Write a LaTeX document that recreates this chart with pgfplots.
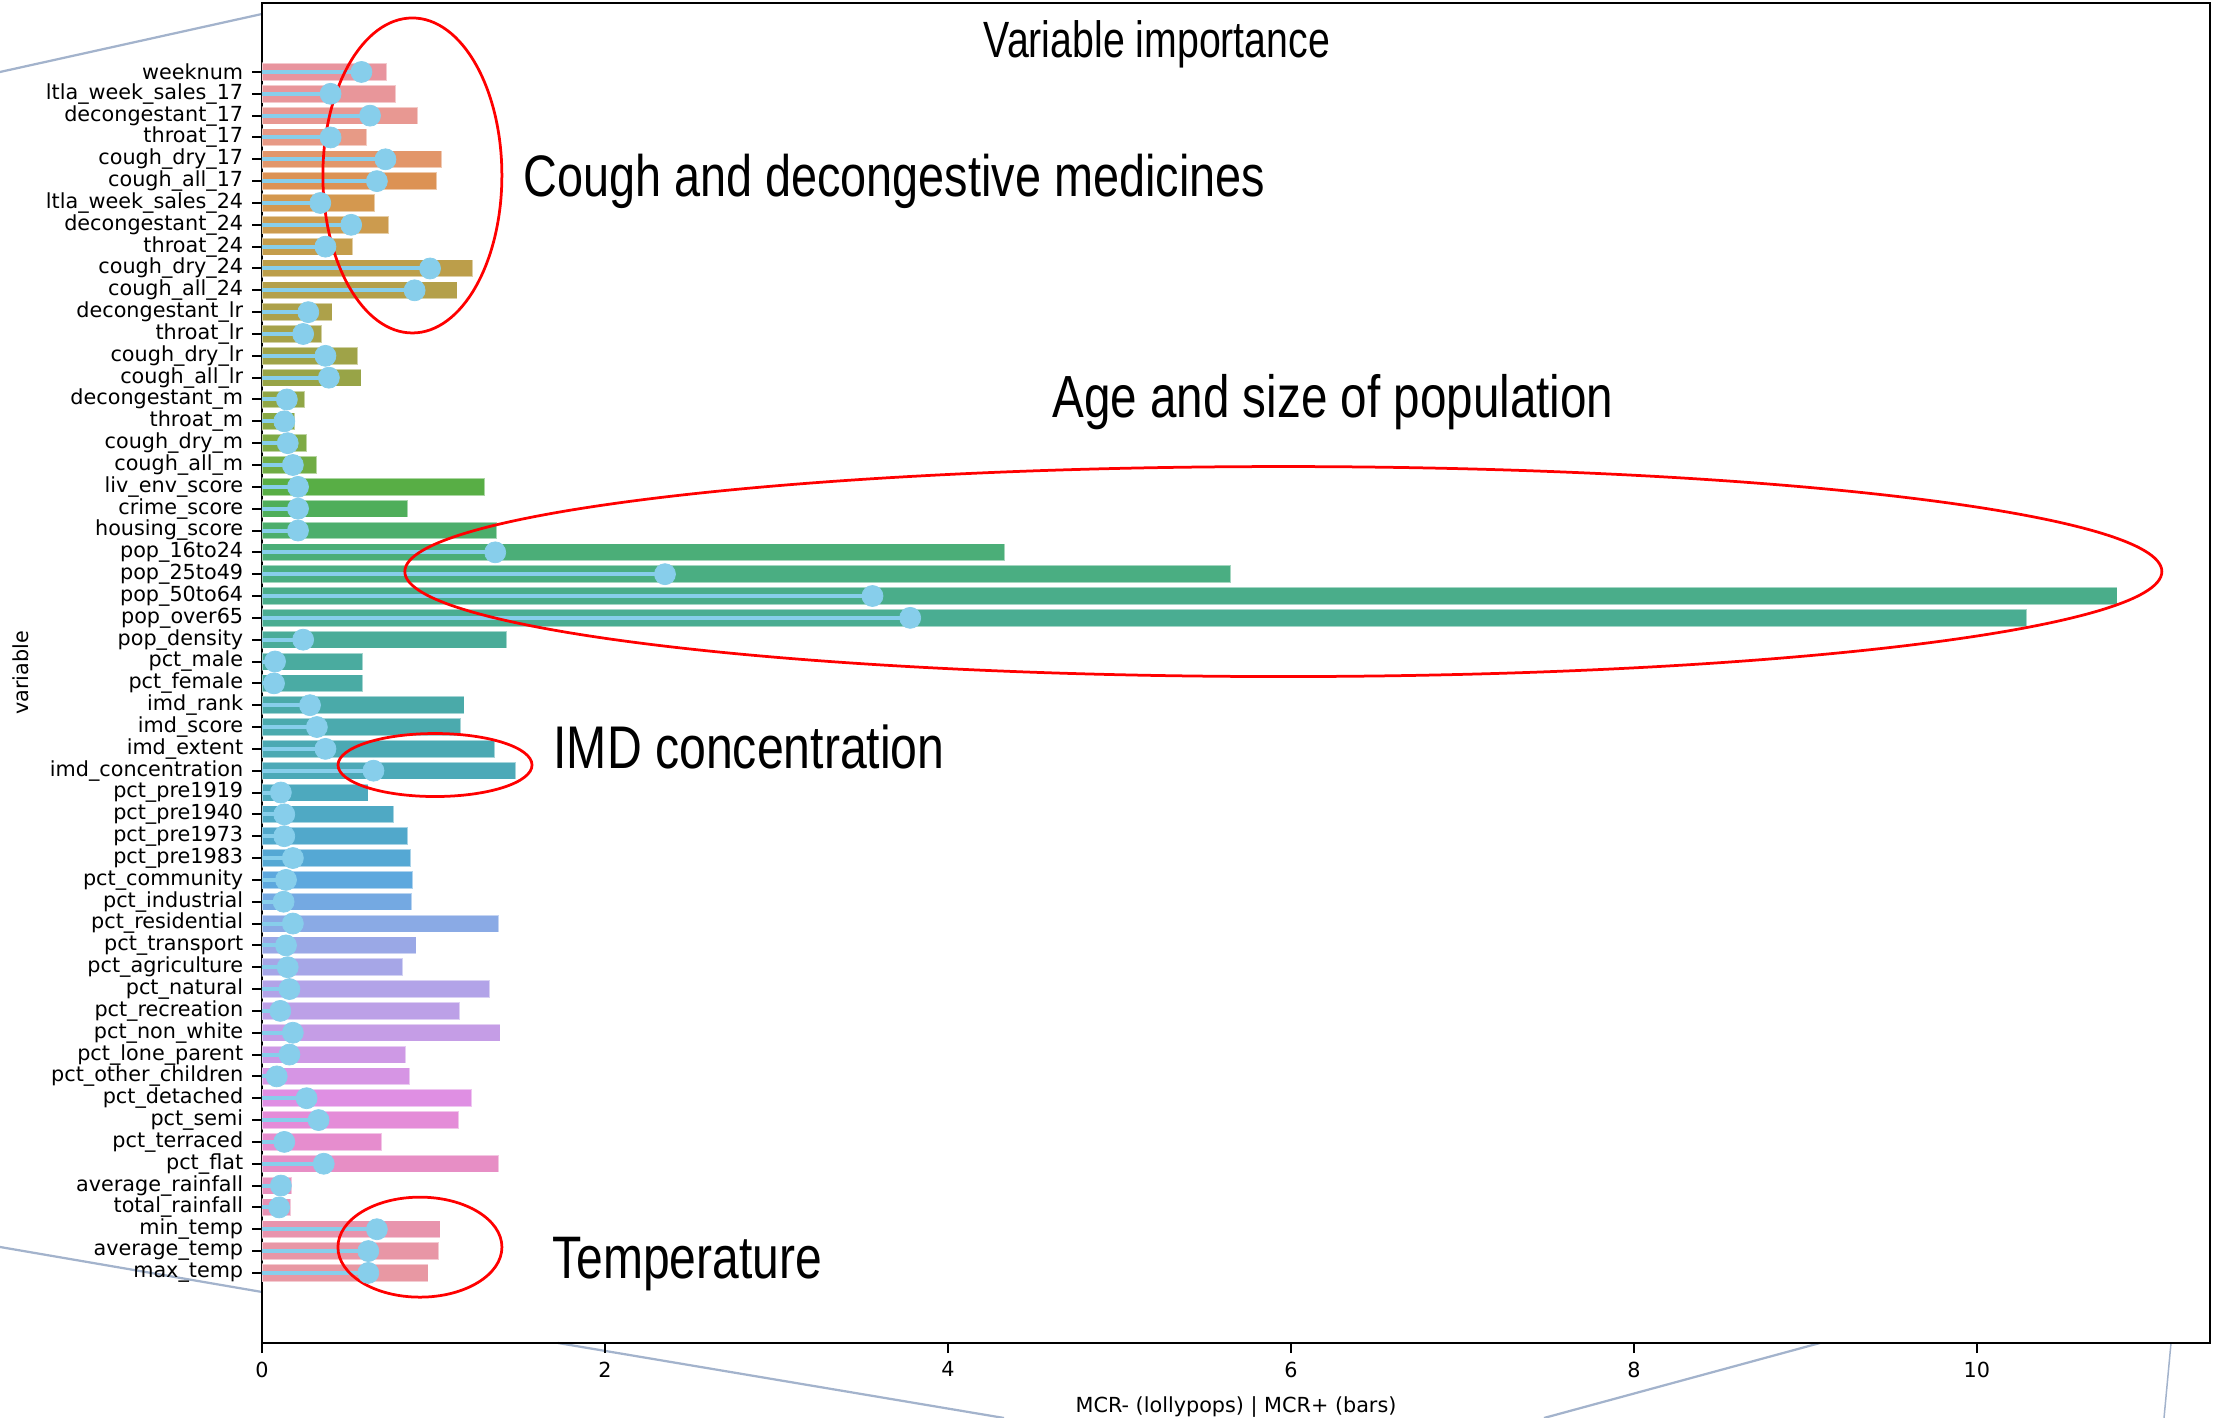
\documentclass[border=0pt]{standalone}
\usepackage{pgfplots}
\pgfplotsset{compat=1.18}
\usepackage{pgfplotstable}
\usepackage{fontspec}
\setmainfont{DejaVu Sans}
\newfontfamily\condfont[FakeStretch=0.8]{Liberation Sans}
\newfontfamily\titlefont[FakeStretch=0.77]{Liberation Sans}
\definecolor{skyblue}{HTML}{87CEEB}
\definecolor{slide}{HTML}{A3B3CC}
\definecolor{c0}{HTML}{E8949E}
\definecolor{c1}{HTML}{E8969A}
\definecolor{c2}{HTML}{E89892}
\definecolor{c3}{HTML}{E79A86}
\definecolor{c4}{HTML}{E2966A}
\definecolor{c5}{HTML}{DC9254}
\definecolor{c6}{HTML}{D4984F}
\definecolor{c7}{HTML}{CC9B4E}
\definecolor{c8}{HTML}{C49D4C}
\definecolor{c9}{HTML}{BC9E4A}
\definecolor{c10}{HTML}{B4A04A}
\definecolor{c11}{HTML}{ADA14A}
\definecolor{c12}{HTML}{A6A249}
\definecolor{c13}{HTML}{9FA348}
\definecolor{c14}{HTML}{98A447}
\definecolor{c15}{HTML}{90A646}
\definecolor{c16}{HTML}{88A845}
\definecolor{c17}{HTML}{7EAA45}
\definecolor{c18}{HTML}{70AC44}
\definecolor{c19}{HTML}{58AE45}
\definecolor{c20}{HTML}{4FAE5A}
\definecolor{c21}{HTML}{4CAE6C}
\definecolor{c22}{HTML}{4BAE78}
\definecolor{c23}{HTML}{4AAE82}
\definecolor{c24}{HTML}{4AAD8A}
\definecolor{c25}{HTML}{4AAD92}
\definecolor{c26}{HTML}{4AAC99}
\definecolor{c27}{HTML}{4AAB9F}
\definecolor{c28}{HTML}{4AABA4}
\definecolor{c29}{HTML}{4AAAA9}
\definecolor{c30}{HTML}{4BAAAE}
\definecolor{c31}{HTML}{4BA9B3}
\definecolor{c32}{HTML}{4CA9B8}
\definecolor{c33}{HTML}{4DA9BE}
\definecolor{c34}{HTML}{4FA9C4}
\definecolor{c35}{HTML}{51A8CB}
\definecolor{c36}{HTML}{55A8D4}
\definecolor{c37}{HTML}{5DA8DE}
\definecolor{c38}{HTML}{74A9E2}
\definecolor{c39}{HTML}{8AAAE5}
\definecolor{c40}{HTML}{9AA8E6}
\definecolor{c41}{HTML}{A6A6E7}
\definecolor{c42}{HTML}{B2A3E8}
\definecolor{c43}{HTML}{BCA0E7}
\definecolor{c44}{HTML}{C59DE6}
\definecolor{c45}{HTML}{CE99E5}
\definecolor{c46}{HTML}{D695E4}
\definecolor{c47}{HTML}{DF8FE3}
\definecolor{c48}{HTML}{E48CD8}
\definecolor{c49}{HTML}{E68DCE}
\definecolor{c50}{HTML}{E78EC5}
\definecolor{c51}{HTML}{E890BC}
\definecolor{c52}{HTML}{E892B4}
\definecolor{c53}{HTML}{E894AD}
\definecolor{c54}{HTML}{E896A6}
\definecolor{c55}{HTML}{E898A3}

\pgfplotstableread{
idx bar dot
0 0.73 0.58
1 0.78 0.40
2 0.91 0.63
3 0.61 0.40
4 1.05 0.72
5 1.02 0.67
6 0.66 0.34
7 0.74 0.52
8 0.53 0.37
9 1.23 0.98
10 1.14 0.89
11 0.41 0.27
12 0.35 0.24
13 0.56 0.37
14 0.58 0.39
15 0.25 0.145
16 0.19 0.13
17 0.26 0.15
18 0.32 0.18
19 1.30 0.21
20 0.85 0.21
21 1.37 0.21
22 4.33 1.36
23 5.65 2.35
24 10.82 3.56
25 10.29 3.78
26 1.43 0.24
27 0.59 0.076
28 0.59 0.07
29 1.18 0.28
30 1.16 0.32
31 1.36 0.37
32 1.48 0.65
33 0.62 0.11
34 0.77 0.13
35 0.85 0.13
36 0.87 0.18
37 0.88 0.14
38 0.875 0.126
39 1.38 0.18
40 0.90 0.14
41 0.82 0.15
42 1.33 0.16
43 1.155 0.107
44 1.39 0.18
45 0.84 0.16
46 0.863 0.086
47 1.225 0.26
48 1.15 0.33
49 0.70 0.13
50 1.38 0.36
51 0.175 0.11
52 0.17 0.10
53 1.04 0.67
54 1.03 0.62
55 0.97 0.62
}\datatable

\begin{document}
\begin{tikzpicture}
\begin{scope}[x=0.4pt,y=-0.4pt,shift={(-262,-1343)}]
\path (0,0) rectangle (2220,1418);
\begin{scope}
\clip (0,0) rectangle (2220,1418);
\draw[slide, line width=0.9pt] (0,72) -- (262,14);
\draw[slide, line width=0.9pt] (0,1247) -- (262,1292);
\draw[slide, line width=0.9pt] (558,1343) -- (1004,1418);
\draw[slide, line width=0.9pt] (1820,1343) -- (1544,1418);
\draw[slide, line width=0.6pt] (2171,1343) -- (2164,1418);
\end{scope}
\end{scope}
\begin{axis}[
  at={(0,0)}, anchor=south west,
  scale only axis, width=779.2pt, height=536pt,
  xmin=0, xmax=11.36, ymin=-3.16, ymax=58.21, y dir=reverse,
  enlargelimits=false,
  axis line style={line width=0.8pt, black},
  tick align=outside, tick pos=left,
  major tick length=4pt,
  tick style={line width=0.8pt, black},
  xtick={0,2,4,6,8,10},
  ytick={0,...,55},
  /pgf/number format/assume math mode=true,
  tick label style={font=\fontsize{8.3}{10}\selectfont},
  label style={font=\fontsize{8.3}{10}\selectfont, inner sep=0pt},
  yticklabels={weeknum, ltla\_week\_sales\_17, decongestant\_17, throat\_17, cough\_dry\_17, cough\_all\_17, ltla\_week\_sales\_24, decongestant\_24, throat\_24, cough\_dry\_24, cough\_all\_24, decongestant\_lr, throat\_lr, cough\_dry\_lr, cough\_all\_lr, decongestant\_m, throat\_m, cough\_dry\_m, cough\_all\_m, liv\_env\_score, crime\_score, housing\_score, pop\_16to24, pop\_25to49, pop\_50to64, pop\_over65, pop\_density, pct\_male, pct\_female, imd\_rank, imd\_score, imd\_extent, imd\_concentration, pct\_pre1919, pct\_pre1940, pct\_pre1973, pct\_pre1983, pct\_community, pct\_industrial, pct\_residential, pct\_transport, pct\_agriculture, pct\_natural, pct\_recreation, pct\_non\_white, pct\_lone\_parent, pct\_other\_children, pct\_detached, pct\_semi, pct\_terraced, pct\_flat, average\_rainfall, total\_rainfall, min\_temp, average\_temp, max\_temp},
  xlabel={MCR- (lollypops) | MCR+ (bars)},
  ylabel={variable},
  xlabel style={at={(axis description cs:0.5,-0.0478)}, anchor=center},
  ylabel style={at={(axis description cs:-0.1237,0.5)}, anchor=center},
]
\pgfplotsinvokeforeach{0,...,55}{
  \addplot[xbar, bar shift=0pt, bar width=0.8, fill=c#1, draw=white, draw opacity=0.5, line width=0.6pt,
    x filter/.code={\ifnum\coordindex=#1\relax\else\let\pgfmathresult\empty\fi}] table[x=bar, y=idx] {\datatable};
}
\addplot[xcomb, color=skyblue, line width=1.6pt, mark=*, mark size=4.2pt,
  mark options={fill=skyblue, draw=skyblue, line width=0.3pt}] table[x=dot, y=idx] {\datatable};
\draw[red, line width=1.1pt] (axis cs:0.877,4.74) ellipse [x radius=35.8pt, y radius=63pt];
\draw[red, line width=1.1pt] (axis cs:5.956,22.88) ellipse [x radius=351.4pt, y radius=42pt];
\draw[red, line width=1.1pt] (axis cs:1.009,31.74) ellipse [x radius=38.8pt, y radius=12.6pt];
\draw[red, line width=1.1pt] (axis cs:0.921,53.82) ellipse [x radius=32.8pt, y radius=20pt];
\node[anchor=base, inner sep=0pt, font=\titlefont\fontsize{20.4}{23}\selectfont] at (axis description cs:0.4594,0.959) {Variable importance};
\node[anchor=base west, inner sep=0pt, font=\condfont\fontsize{23.4}{26}\selectfont] at (axis description cs:0.134,0.8554) {Cough and decongestive medicines};
\node[anchor=base west, inner sep=0pt, font=\condfont\fontsize{23.8}{26}\selectfont] at (axis description cs:0.4055,0.691) {Age and size of population};
\node[anchor=base west, inner sep=0pt, font=\condfont\fontsize{24.1}{26}\selectfont] at (axis description cs:0.1494,0.4291) {IMD concentration};
\node[anchor=base west, inner sep=0pt, font=\condfont\fontsize{24}{26}\selectfont] at (axis description cs:0.1489,0.0485) {Temperature};
\end{axis}
\end{tikzpicture}
\end{document}
